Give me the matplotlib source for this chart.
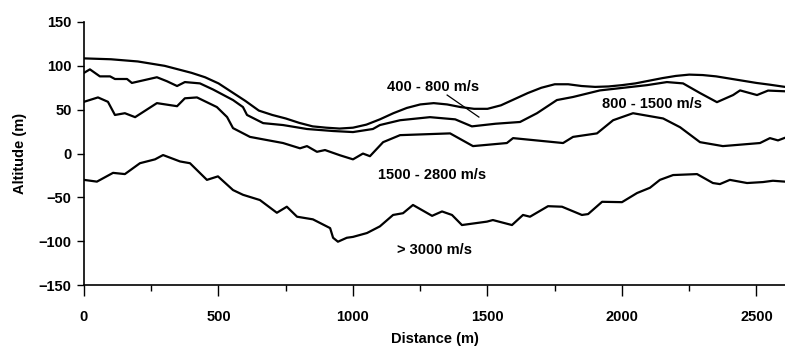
import numpy as np
import matplotlib
matplotlib.use('Agg')
import matplotlib.pyplot as plt
from matplotlib.ticker import MultipleLocator

plt.rcParams['font.family'] = ['Liberation Sans', 'DejaVu Sans']
plt.rcParams['font.weight'] = 'bold'

# 400 - 800 m/s layer
x1 = [0, 100, 200, 300, 400, 450, 500, 550, 600, 650, 700, 750, 800, 850, 900, 950,
      1000, 1050, 1100, 1150, 1200, 1250, 1300, 1350, 1400, 1450, 1500, 1550, 1600,
      1650, 1700, 1750, 1800, 1850, 1900, 1950, 2000, 2050, 2100, 2150, 2200, 2250,
      2300, 2350, 2400, 2450, 2500, 2550, 2606]
y1 = [108.5, 107.5, 105, 100, 92, 87, 80, 70, 60, 49, 44, 40, 35, 31, 29.5, 28.5,
      29.5, 33, 39, 46, 52, 56, 57.5, 56, 53, 51, 51, 55, 62,
      69, 75, 79, 79, 77, 76, 76.5, 78, 80, 83, 86, 88.5, 90,
      89.5, 88, 85.5, 83, 80.5, 78.5, 76]

# 800 - 1500 m/s layer
x2 = [0, 22, 59, 97, 115, 160, 178, 271, 308, 346, 375, 431, 480, 554, 591, 606, 666,
      740, 829, 926, 1000, 1074, 1100, 1175, 1286, 1380, 1442, 1530, 1621, 1684,
      1758, 1818, 1918, 2093, 2167, 2227, 2290, 2353, 2413, 2439, 2502, 2543, 2606]
y2 = [92, 96, 88, 88, 85, 85, 80.5, 87, 82.5, 77, 81.5, 80, 73, 61, 53, 44, 34.7,
      32.5, 28, 25.7, 24.5, 28, 32.5, 38, 41.5, 39, 31, 34, 36, 46,
      61, 64.5, 72, 78, 81.5, 80, 69, 58.6, 66.7, 72, 66.7, 71.8, 71]

# 1500 - 2800 m/s layer
x3 = [0, 52, 89, 115, 152, 190, 271, 346, 375, 420, 494, 532, 554, 617, 680, 740,
      803, 829, 866, 896, 952, 1000, 1037, 1063, 1112, 1175, 1361, 1446, 1572, 1595,
      1781, 1818, 1907, 1967, 2041, 2153, 2216, 2290, 2375, 2513, 2550, 2580, 2606]
y3 = [59, 64, 59, 44, 46, 41.5, 57.5, 54, 63, 64, 53, 41.6, 29, 19, 15.4, 12,
      6, 8.5, 2, 4, -2, -6.6, 0, -3, 13, 21, 23, 8.5, 12, 17.6,
      12, 19, 23, 38, 46, 40, 30, 13, 8.5, 12, 17.6, 15, 18]

# > 3000 m/s layer
x4 = [0, 48, 108, 152, 208, 264, 294, 357, 394, 457, 498, 554, 591, 654, 717, 754,
      792, 851, 915, 926, 944, 977, 1000, 1052, 1100, 1149, 1186, 1223, 1294, 1331,
      1368, 1405, 1498, 1520, 1591, 1632, 1658, 1725, 1777, 1851, 1874, 1926, 2000,
      2056, 2104, 2141, 2190, 2279, 2338, 2364, 2401, 2465, 2524, 2561, 2606]
y4 = [-30, -32, -22, -23.4, -11, -6.6, -1.7, -9, -11, -30, -26, -41.6, -47, -53, -67.5, -60.6,
      -72, -75, -85, -96, -100.5, -96, -95, -90.6, -83, -70, -68, -58.6, -71, -66,
      -70, -81.5, -77.6, -75.8, -81.5, -70, -72, -60, -60.6, -70, -69, -55, -55.4,
      -45, -39, -30, -24.5, -23.4, -33.6, -34.8, -30, -33.6, -32.5, -31, -32]

fs = 10.5

fig = plt.figure(figsize=(7.85, 3.49), dpi=100)
ax = fig.add_axes([0.107, 0.183, 0.893, 0.754])

for xs, ys in [(x1, y1), (x2, y2), (x3, y3), (x4, y4)]:
    ax.plot(xs, ys, color='black', lw=1.6)

ax.text(1126, 76, '400 - 800 m/s', fontsize=fs, fontweight='bold', va='center')
ax.plot([1350, 1468], [66.7, 41.6], color='black', lw=0.9)
ax.text(1926, 56, '800 - 1500 m/s', fontsize=fs, fontweight='bold', va='center')
ax.text(1093, -25, '1500 - 2800 m/s', fontsize=fs, fontweight='bold', va='center')
ax.text(1163, -110, '> 3000 m/s', fontsize=fs, fontweight='bold', va='center')

ax.set_xlim(0, 2606)
ax.set_ylim(-150, 150)
ax.xaxis.set_major_locator(MultipleLocator(500))
ax.xaxis.set_minor_locator(MultipleLocator(250))
ax.yaxis.set_major_locator(MultipleLocator(50))
ax.tick_params(axis='x', which='major', length=8, width=1, labelsize=fs, pad=10)
ax.tick_params(axis='x', which='minor', length=4, width=1)
ax.tick_params(axis='y', length=5, width=1, labelsize=fs, pad=4)
for lab in ax.get_xticklabels() + ax.get_yticklabels():
    lab.set_fontweight('bold')
ax.spines['top'].set_visible(False)
ax.spines['right'].set_visible(False)
ax.spines['left'].set_linewidth(1.2)
ax.spines['bottom'].set_linewidth(1.2)

ax.set_xlabel('Distance (m)', fontsize=fs, fontweight='bold', labelpad=6)
ax.set_ylabel('Altitude (m)', fontsize=fs, fontweight='bold', labelpad=8)

fig.savefig('out.png', dpi=100)
